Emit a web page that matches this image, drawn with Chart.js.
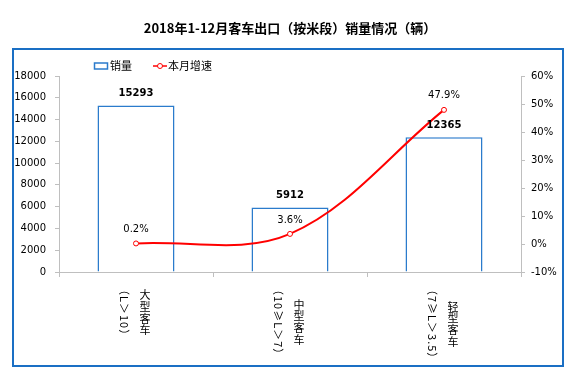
<!DOCTYPE html>
<html>
<head>
<meta charset="utf-8">
<script src="https://cdn.jsdelivr.net/npm/chart.js@4.4.0/dist/chart.umd.min.js"></script>
<style>
  html, body { margin: 0; padding: 0; background: #fff; }
  canvas { display: block; }
</style>
</head>
<body>
<canvas id="myChart" width="580" height="381"></canvas>
<script>
// chart data
var categories = ["大型客车", "中型客车", "轻型客车"];
var lengthRanges = ["（L＞10）", "（10≥L＞7）", "（7≥L＞3.5）"];
var salesValues = [15293, 5912, 12365];
var growthValues = [0.2, 3.6, 47.9];
var salesTicks = { min: 0, max: 18000, step: 2000 };
var growthTicks = { min: -10, max: 60, step: 10 };

var numFont = "'DejaVu Sans', sans-serif";
var cjkFont = "'Noto Sans CJK SC', sans-serif";
var barBlue = "#2b7bcc";
var lineRed = "#ff0000";
var axisGrey = "#bfbfbf";

// white page + blue frame round the plot
var framePlugin = {
  id: "frame",
  beforeDraw: function(chart) {
    var ctx = chart.ctx;
    ctx.save();
    ctx.fillStyle = "#fff";
    ctx.fillRect(0, 0, chart.width, chart.height);
    ctx.strokeStyle = "#1a6fc4";
    ctx.lineWidth = 2;
    ctx.strokeRect(13, 49, 550, 317);
    ctx.restore();
  }
};

// small legend at top left
var legendPlugin = {
  id: "smallLegend",
  afterDraw: function(chart) {
    var ctx = chart.ctx;
    var bars = chart.data.datasets[0], line = chart.data.datasets[1];
    ctx.save();
    ctx.font = "11px " + cjkFont;
    ctx.textBaseline = "middle";
    ctx.fillStyle = "#000";
    ctx.strokeStyle = bars.borderColor;
    ctx.lineWidth = 1.5;
    ctx.strokeRect(94.5, 63, 13, 6);
    ctx.fillText(bars.label, 110, 66);
    ctx.strokeStyle = line.borderColor;
    ctx.lineWidth = 1.5;
    ctx.beginPath();
    ctx.moveTo(153, 66);
    ctx.lineTo(167, 66);
    ctx.stroke();
    ctx.beginPath();
    ctx.arc(160, 66, 2.5, 0, Math.PI * 2);
    ctx.fillStyle = "#fff";
    ctx.fill();
    ctx.lineWidth = 1;
    ctx.stroke();
    ctx.fillStyle = "#000";
    ctx.fillText(line.label, 168, 66);
    ctx.restore();
  }
};

// numbers above bars and points
var valueLabels = {
  id: "valueLabels",
  afterDatasetsDraw: function(chart) {
    var ctx = chart.ctx;
    ctx.save();
    ctx.textAlign = "center";
    ctx.textBaseline = "middle";
    ctx.fillStyle = "#000";
    ctx.font = "bold 10px " + numFont;
    chart.getDatasetMeta(0).data.forEach(function(bar, i) {
      ctx.fillText(String(salesValues[i]), bar.x, bar.y - 12);
    });
    ctx.font = "10px " + numFont;
    chart.getDatasetMeta(1).data.forEach(function(pt, i) {
      ctx.fillText(growthValues[i].toFixed(1) + "%", pt.x, pt.y - 14);
    });
    ctx.restore();
  }
};

// vertical category labels under the axis
var categoryLabels = {
  id: "categoryLabels",
  afterDraw: function(chart) {
    var ctx = chart.ctx, xs = chart.scales.x;
    var top = xs.top + 12;
    var step = 11.8;
    ctx.save();
    ctx.font = "11px " + cjkFont;
    ctx.fillStyle = "#000";
    ctx.textAlign = "center";
    ctx.textBaseline = "middle";
    categories.forEach(function(name, i) {
      var cx = xs.getPixelForValue(i);
      var nameLen = name.length * step;
      ctx.letterSpacing = "1px";
      var rangeLen = ctx.measureText(lengthRanges[i]).width;
      var mid = top + Math.max(nameLen, rangeLen) / 2;
      ctx.save();
      ctx.translate(cx - 12, mid);
      ctx.rotate(Math.PI / 2);
      ctx.fillText(lengthRanges[i], 0, 0);
      ctx.restore();
      ctx.letterSpacing = "0px";
      for (var k = 0; k < name.length; k++) {
        ctx.fillText(name[k], cx + 9, mid - nameLen / 2 + step * (k + 0.5));
      }
    });
    ctx.restore();
  }
};

new Chart("myChart", {
  type: "bar",
  data: {
    labels: categories.map(function(c, i) { return [c, lengthRanges[i]]; }),
    datasets: [{
      type: "bar",
      label: "销量",
      data: salesValues,
      yAxisID: "y",
      backgroundColor: "#fff",
      borderColor: barBlue,
      borderWidth: 1.5,
      categoryPercentage: 1,
      barPercentage: 0.5,
      order: 1
    }, {
      type: "line",
      label: "本月增速",
      data: growthValues,
      yAxisID: "y1",
      borderColor: lineRed,
      borderWidth: 2,
      tension: 0.35,
      pointRadius: 2.5,
      pointBorderWidth: 1,
      pointBackgroundColor: "#fff",
      pointBorderColor: lineRed,
      order: 0
    }]
  },
  options: {
    responsive: false,
    animation: false,
    devicePixelRatio: 1,
    layout: { padding: 0 },
    plugins: {
      legend: { display: false },
      tooltip: { enabled: false },
      title: {
        display: true,
        text: "2018年1-12月客车出口（按米段）销量情况（辆）",
        color: "#000",
        font: { family: cjkFont, size: 13, weight: "bold" },
        padding: { top: 20, bottom: 40.4 }
      }
    },
    scales: {
      x: {
        offset: true,
        grid: { drawOnChartArea: false, offset: true, tickLength: 5, color: axisGrey },
        border: { color: axisGrey },
        ticks: { display: false },
        afterFit: function(s) { s.height = 109; }
      },
      y: {
        position: "left",
        min: salesTicks.min,
        max: salesTicks.max,
        ticks: {
          stepSize: salesTicks.step,
          padding: 9,
          color: "#000",
          font: { family: numFont, size: 10 },
          callback: function(v) { return String(v); }
        },
        grid: { drawOnChartArea: false, tickLength: 4, color: axisGrey },
        border: { color: axisGrey },
        afterFit: function(s) { s.width = 59; }
      },
      y1: {
        position: "right",
        min: growthTicks.min,
        max: growthTicks.max,
        ticks: {
          stepSize: growthTicks.step,
          padding: 6,
          color: "#000",
          font: { family: numFont, size: 10 },
          callback: function(v) { return v + "%"; }
        },
        grid: { drawOnChartArea: false, tickLength: 4, color: axisGrey },
        border: { color: axisGrey },
        afterFit: function(s) { s.width = 59; }
      }
    }
  },
  plugins: [framePlugin, legendPlugin, valueLabels, categoryLabels]
});
</script>
</body>
</html>
